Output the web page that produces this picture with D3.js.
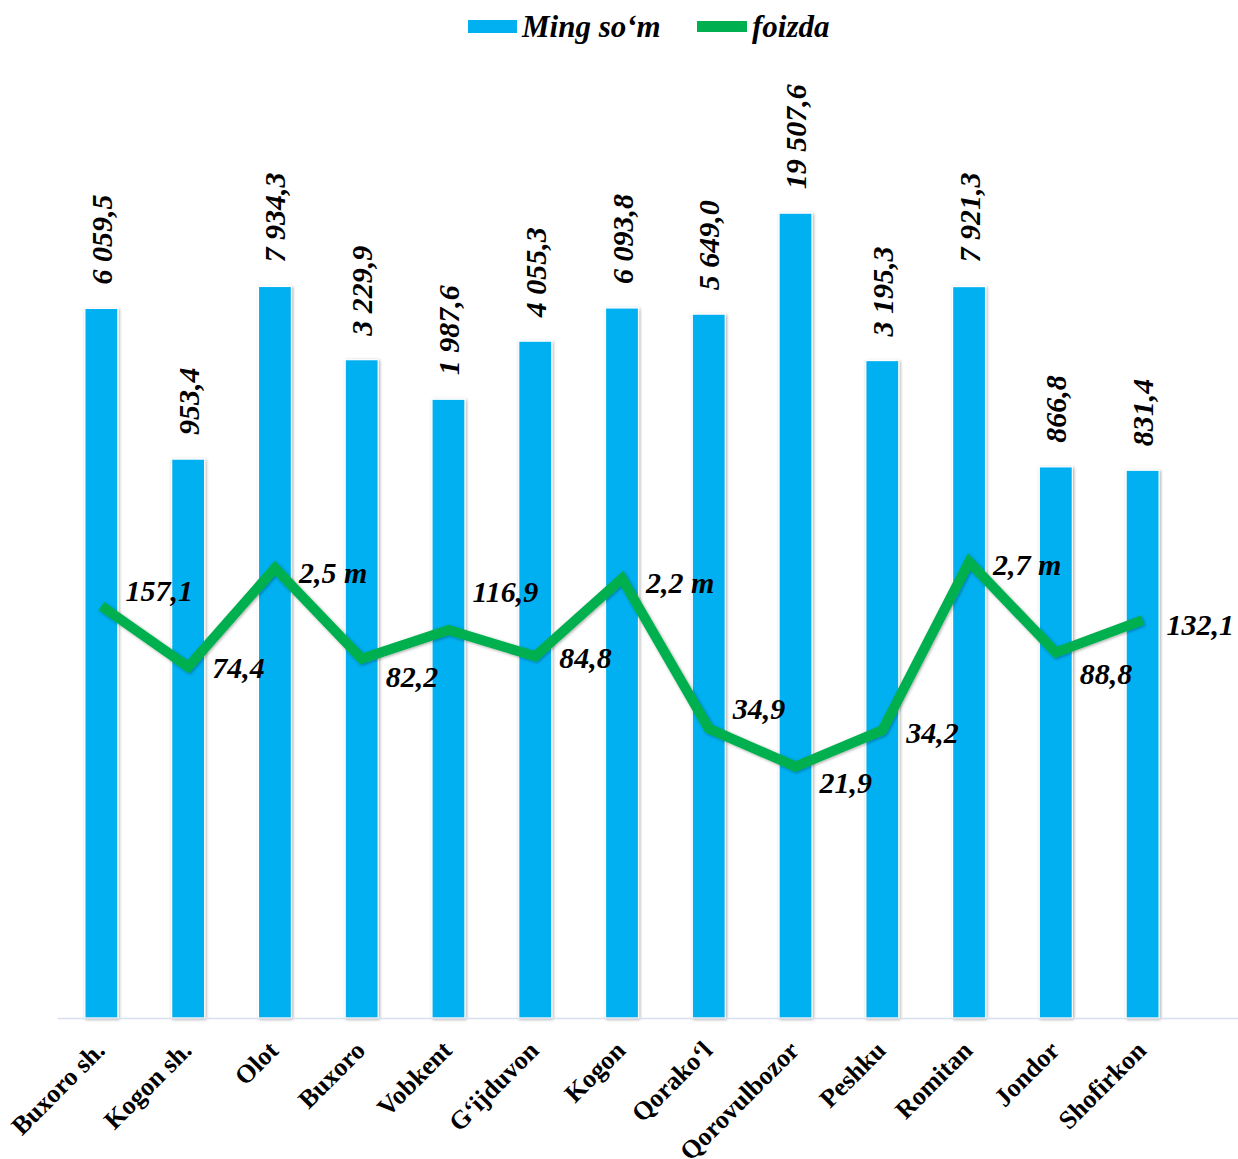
<!DOCTYPE html>
<html>
<head>
  <meta charset="utf-8">
  <title>Ming so'm va foizda</title>
  <script src="https://d3js.org/d3.v7.min.js"></script>
  <style>
    body { margin: 0; background: #fff; }
    text { font-family: "Liberation Serif", "Times New Roman", serif; font-weight: bold; }
  </style>
</head>
<body>
  <svg id="chart"></svg>
  <script>

    // districts on the x axis
    const districts = ["Buxoro sh.", "Kogon sh.", "Olot", "Buxoro", "Vobkent", "G\u2018ijduvon",
      "Kogon", "Qorako\u2018l", "Qorovulbozor", "Peshku", "Romitan", "Jondor", "Shofirkon"];

    // bar series, thousand so'm
    const mingSom = [6059.5, 953.4, 7934.3, 3229.9, 1987.6, 4055.3, 6093.8, 5649.0, 19507.6, 3195.3, 7921.3, 866.8, 831.4];

    // line series, percent (250 = 2,5 marta)
    const foizda = [157.1, 74.4, 250, 82.2, 116.9, 84.8, 220, 34.9, 21.9, 34.2, 270, 88.8, 132.1];

    // vertical nudges for the line labels (layout only)
    const lineLabelDy = [-15, 1, 4, 18, -39, 1, 4, -20, 16, 2, 3, 21, 4];

    const width = 1238;
    const height = 1159;
    const margin = { top: 80, left: 58, bottom: 141 };
    const plotRight = 1186;
    const baseY = height - margin.bottom;

    const locale = d3.formatLocale({ decimal: ",", thousands: "\u00a0", grouping: [3] });
    const fmt = locale.format(",.1f");
    const lineFmt = v => v >= 200 ? fmt(v / 100) + " m" : fmt(v);

    const svg = d3.select("#chart")
      .attr("width", width)
      .attr("height", height);

    // soft shadow like the office chart
    const defs = svg.append("defs");
    defs.append("filter").attr("id", "shadow")
      .attr("x", "-30%").attr("y", "-5%").attr("width", "160%").attr("height", "110%")
      .append("feDropShadow")
      .attr("dx", 1).attr("dy", 1).attr("stdDeviation", 1.6)
      .attr("flood-color", "#000").attr("flood-opacity", 0.35);

    const x = d3.scaleBand()
      .domain(districts)
      .range([margin.left, plotRight])
      .paddingInner(0.62)
      .paddingOuter(0.31);

    // both series sit on the same log scale
    const y = d3.scaleLog()
      .domain([1, 100000])
      .range([baseY, margin.top]);

    // bars
    svg.selectAll(".bar")
      .data(districts)
      .join("rect")
      .attr("class", "bar")
      .attr("x", d => x(d))
      .attr("width", x.bandwidth())
      .attr("y", (d, i) => y(mingSom[i]))
      .attr("height", (d, i) => baseY - y(mingSom[i]))
      .attr("fill", "#00B0F0")
      .attr("stroke", "#fff")
      .attr("stroke-width", 1.2)
      .attr("filter", "url(#shadow)");

    // x axis
    const xAxis = svg.append("g")
      .attr("transform", `translate(0, ${baseY})`)
      .call(d3.axisBottom(x).tickSize(0).tickPadding(0));
    xAxis.select(".domain").remove();
    svg.append("line")
      .attr("x1", margin.left).attr("x2", width)
      .attr("y1", baseY + 0.5).attr("y2", baseY + 0.5)
      .attr("stroke", "#d6e0ee").attr("stroke-width", 1.5);
    xAxis.selectAll(".tick text")
      .attr("fill", "#000")
      .attr("font-size", 26)
      .attr("font-family", "Liberation Serif, Times New Roman, serif")
      .attr("font-weight", "bold")
      .attr("text-anchor", "end")
      .attr("dy", 0)
      .attr("y", 0)
      .attr("transform", "translate(5, 34) rotate(-45)");

    // bar value labels, rotated
    svg.selectAll(".bar-label")
      .data(districts)
      .join("text")
      .attr("class", "bar-label")
      .attr("transform", (d, i) => `translate(${x(d) + x.bandwidth() / 2}, ${y(mingSom[i]) - 24}) rotate(-90)`)
      .attr("dy", "0.35em")
      .attr("font-size", 30)
      .attr("font-style", "italic")
      .attr("text-anchor", "start")
      .text((d, i) => fmt(mingSom[i]));

    // line
    const line = d3.line()
      .x((d, i) => x(districts[i]) + x.bandwidth() / 2)
      .y(d => y(d));

    svg.append("path")
      .datum(foizda)
      .attr("d", line)
      .attr("fill", "none")
      .attr("stroke", "#00B050")
      .attr("stroke-width", 10)
      .attr("stroke-linejoin", "miter")
      .attr("filter", "url(#shadow)");

    svg.selectAll(".line-label")
      .data(foizda)
      .join("text")
      .attr("class", "line-label")
      .attr("x", (d, i) => x(districts[i]) + x.bandwidth() / 2 + 24)
      .attr("y", (d, i) => y(d) + lineLabelDy[i])
      .attr("dy", "0.35em")
      .attr("font-size", 30)
      .attr("font-style", "italic")
      .text(d => lineFmt(d));

    // legend
    const legend = svg.append("g");
    legend.append("rect")
      .attr("x", 468).attr("y", 20).attr("width", 49).attr("height", 13)
      .attr("fill", "#00B0F0");
    legend.append("text")
      .attr("x", 522).attr("y", 37)
      .attr("font-size", 31).attr("font-style", "italic")
      .text("Ming so\u2018m");
    legend.append("rect")
      .attr("x", 697).attr("y", 21).attr("width", 50).attr("height", 11)
      .attr("fill", "#00B050");
    legend.append("text")
      .attr("x", 752).attr("y", 37)
      .attr("font-size", 31).attr("font-style", "italic")
      .text("foizda");

  </script>
</body>
</html>
